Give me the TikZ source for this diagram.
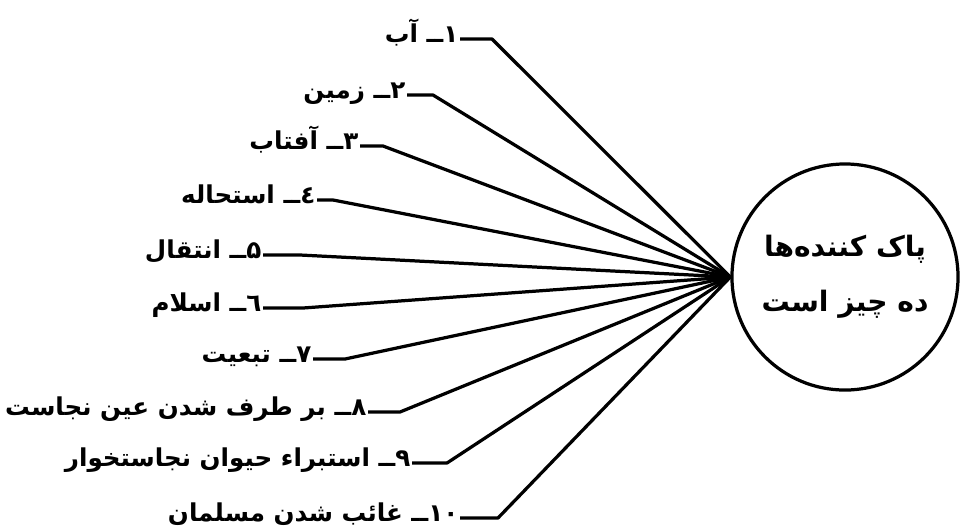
\documentclass[tikz,border=0pt]{standalone}
\usepackage{fontspec}
\newfontfamily\arabicfont[Script=Arabic]{DejaVu Sans}
\TeXXeTstate=1
\usetikzlibrary{positioning}

\begin{document}
\begin{tikzpicture}[x=0.025cm, y=-0.025cm, line width=2.3pt,
  lbl/.style={inner sep=0pt, anchor=base east, font=\arabicfont\bfseries\fontsize{17.5}{22}\selectfont}]
\useasboundingbox (0,0) rectangle (968,529);
% circle on the right
\node[circle, draw, minimum size=5.65cm, align=center, inner sep=0pt,
  font=\arabicfont\bfseries\fontsize{20}{39}\selectfont] (hub) at (845,277)
  {\beginR پاک کننده‌ها\endR\\\beginR ده چیز است\endR};
% items with their leader lines
\foreach \cx/\cy/\tx/\txt [count=\i] in {492/39/460/{۱ــ آب}, 433/95/407/{۲ــ زمین},
  383/146/360/{۳ــ آفتاب}, 333/200/317/{٤ــ استحاله}, 300/255/263/{۵ــ انتقال},
  303/308/263/{٦ــ اسلام}, 345/359/313/{۷ــ تبعیت}, 400/412/368/{۸ــ بر طرف شدن عین نجاست},
  447/463/412/{۹ــ استبراء حیوان نجاستخوار}, 498/518/460/{۱۰ــ غائب شدن مسلمان}} {
  \node[lbl] (t\i) at (\tx,\cy+3) {\beginR\txt\endR};
  \coordinate (k\i) at (\cx,\cy);
  \draw[line join=round] (t\i.base east |- k\i) -- (k\i) -- (hub.west);
}
\end{tikzpicture}
\end{document}
